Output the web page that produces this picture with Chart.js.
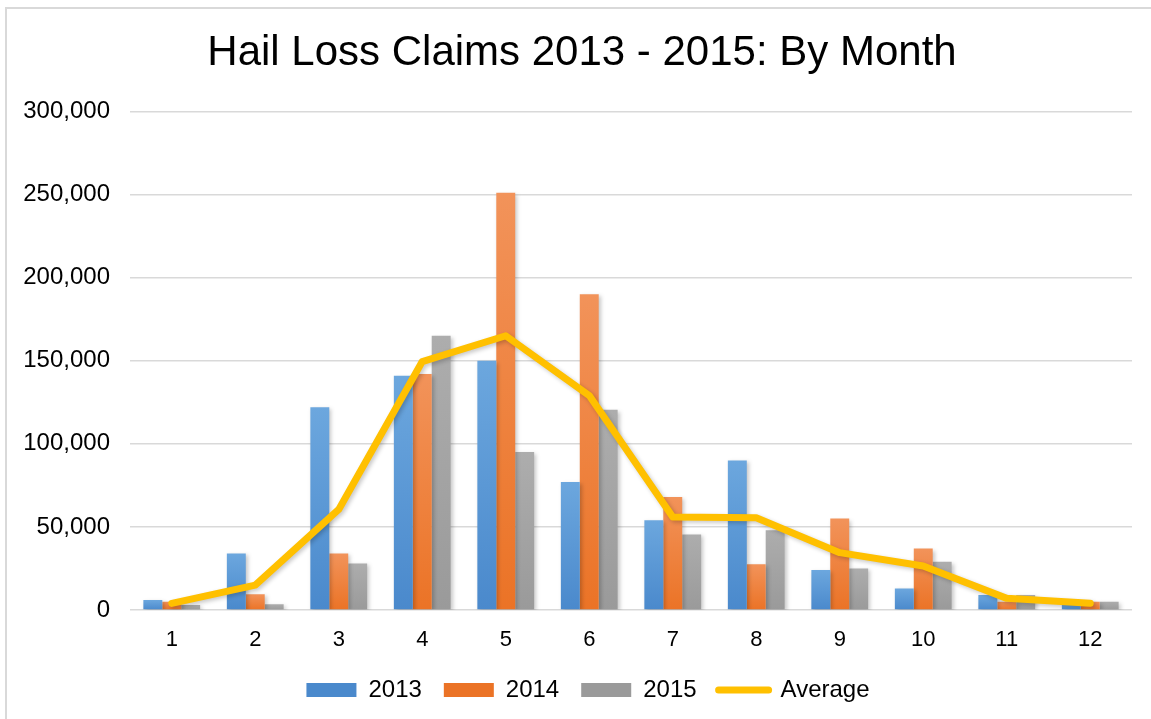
<!DOCTYPE html>
<html>
<head>
<meta charset="utf-8">
<title>Hail Loss Claims 2013 - 2015: By Month</title>
<script src="https://cdn.jsdelivr.net/npm/chart.js@4.4.1/dist/chart.umd.min.js"></script>
<style>
    html, body { margin: 0; padding: 0; background: #ffffff; overflow: hidden; }
    #frame {
        position: absolute; left: 5px; top: 7px;
        width: 1200px; height: 800px;
        border: 2px solid #d9d9d9;
    }
    #chart { position: absolute; left: 7px; top: 9px; }
</style>
</head>
<body>
<div id="frame"></div>
<canvas id="chart" width="1155" height="710"></canvas>
<script>
// Data
const months = ['1', '2', '3', '4', '5', '6', '7', '8', '9', '10', '11', '12'];
const claims2013 = [6000, 34000, 122000, 141000, 150000, 77000, 54000, 90000, 24000, 13000, 9000, 3000];
const claims2014 = [5000, 9500, 34000, 142000, 251000, 190000, 68000, 27500, 55000, 37000, 5000, 5000];
const claims2015 = [3000, 3500, 28000, 165000, 95000, 120500, 45500, 48000, 25000, 29000, 9000, 5000];
const claimsAverage = [4000, 15000, 60500, 149500, 165000, 129000, 56000, 55500, 34500, 26500, 7000, 4000];
const yTicks = [0, 50000, 100000, 150000, 200000, 250000, 300000];

const theme = {
    blue: ['#6ca7de', '#4a89cc'],
    orange: ['#f2935a', '#eb7326'],
    gray: ['#adadad', '#9a9a9a'],
    yellow: '#ffc000',
    grid: '#d9d9d9',
    text: '#000000',
    font: "'Liberation Sans', Arial, sans-serif"
};

// Excel style bars: lighter at the top, full colour at the base
function barFill(colors) {
    return function(ctx) {
        if (ctx.type !== 'data' || !ctx.chart.chartArea) return colors[1];
        const y = ctx.chart.scales.y;
        const top = y.getPixelForValue(ctx.raw);
        const bottom = y.getPixelForValue(0);
        if (bottom - top < 2) return colors[1];
        const g = ctx.chart.ctx.createLinearGradient(0, top, 0, bottom);
        g.addColorStop(0, colors[0]);
        g.addColorStop(1, colors[1]);
        return g;
    };
}

// soft drop shadow under bars and line
const shadowPlugin = {
    id: 'shadow',
    beforeDatasetsDraw(chart) {
        const c = chart.ctx;
        c.save();
        c.shadowColor = 'rgba(0, 0, 0, 0.22)';
        c.shadowBlur = 4;
        c.shadowOffsetX = 2;
        c.shadowOffsetY = 2;
    },
    afterDatasetsDraw(chart) {
        chart.ctx.restore();
    }
};

// Excel centres title and legend on the whole frame, not on the padded layout
const nudgePlugin = {
    id: 'nudge',
    afterLayout(chart) {
        const shift = (box, dx) => {
            if (!box) return;
            box.left += dx;
            box.right += dx;
        };
        shift(chart.titleBlock, 6);
        shift(chart.legend, 12);
    }
};

const legendColors = [theme.blue[1], theme.orange[1], theme.gray[1]];

new Chart(document.getElementById('chart'), {
    type: 'bar',
    data: {
        labels: months,
        datasets: [
            { label: '2013', data: claims2013, backgroundColor: barFill(theme.blue), order: 1 },
            { label: '2014', data: claims2014, backgroundColor: barFill(theme.orange), order: 1 },
            { label: '2015', data: claims2015, backgroundColor: barFill(theme.gray), order: 1 },
            {
                type: 'line',
                label: 'Average',
                data: claimsAverage,
                borderColor: theme.yellow,
                backgroundColor: theme.yellow,
                borderWidth: 7,
                borderCapStyle: 'round',
                borderJoinStyle: 'round',
                pointRadius: 0,
                pointHoverRadius: 0,
                tension: 0,
                order: 0
            }
        ]
    },
    options: {
        responsive: false,
        animation: false,
        categoryPercentage: 0.68,
        barPercentage: 1,
        layout: { padding: { left: 13, right: 30, top: 0, bottom: 7 } },
        plugins: {
            title: {
                display: true,
                text: 'Hail Loss Claims 2013 - 2015: By Month',
                color: theme.text,
                font: { family: theme.font, size: 42, weight: 'normal' },
                padding: { top: 19, bottom: 33 }
            },
            legend: {
                position: 'bottom',
                labels: {
                    color: theme.text,
                    font: { family: theme.font, size: 24 },
                    usePointStyle: true,
                    pointStyleWidth: 50,
                    boxHeight: 14,
                    padding: 22,
                    generateLabels(chart) {
                        const items = Chart.defaults.plugins.legend.labels.generateLabels(chart);
                        items.forEach(it => {
                            if (it.datasetIndex < 3) {
                                it.pointStyle = 'rect';
                                it.fillStyle = legendColors[it.datasetIndex];
                                it.lineWidth = 0;
                            } else {
                                it.pointStyle = 'line';
                                it.strokeStyle = theme.yellow;
                                it.lineWidth = 7;
                                it.lineCap = 'round';
                            }
                        });
                        return items.sort((a, b) => a.datasetIndex - b.datasetIndex);
                    }
                }
            },
            tooltip: { enabled: false }
        },
        scales: {
            x: {
                grid: { display: false, drawTicks: false },
                border: { display: false },
                ticks: {
                    color: theme.text,
                    font: { family: theme.font, size: 22 },
                    padding: 17,
                    maxRotation: 0
                },
                afterFit(scale) { scale.height = 46; }
            },
            y: {
                min: 0,
                max: 300000,
                afterBuildTicks(scale) {
                    scale.ticks = yTicks.map(v => ({ value: v }));
                },
                grid: { color: theme.grid, lineWidth: 1.5, drawTicks: false },
                border: { display: false },
                ticks: {
                    color: theme.text,
                    font: { family: theme.font, size: 24 },
                    padding: 20,
                    callback: v => v.toLocaleString('en-US')
                },
                afterFit(scale) { scale.width = 110; }
            }
        }
    },
    plugins: [shadowPlugin, nudgePlugin]
});
</script>
</body>
</html>
